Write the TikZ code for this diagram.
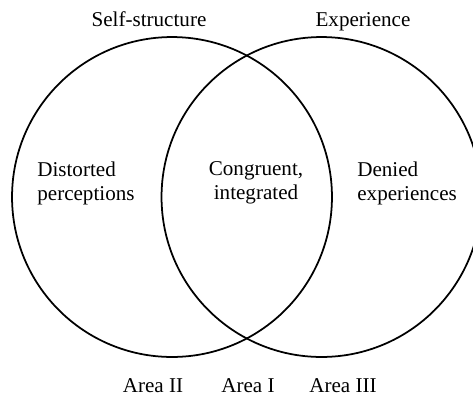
\documentclass[tikz,border=0pt]{standalone}
\usepackage{fontspec}
\setmainfont{Liberation Serif}

\begin{document}
\begin{tikzpicture}[x=0.02cm, y=-0.02cm, every node/.style={font=\fontsize{12}{13.6}\selectfont},
	ring/.style={circle, draw, line width=1pt, minimum size=6.4cm, inner sep=0pt}]

		\useasboundingbox (0,0) rectangle (473,397);

		\node[ring] (S) 	at (172,197) 	{};
		\node[ring] (E) 	at (321.5,197) 	{};

		\node[anchor=base] (Stitle) 	at (149,26) 		{Self-structure};
		\node[anchor=base] (Etitle) 	at (363,26) 		{Experience};

		\node[anchor=west, align=left, inner sep=0pt] (A2) 	at (37,183) 	{Distorted\\perceptions};
		\node[align=center, inner sep=0pt] (A1) 					at (256,183) 	{Congruent,\\integrated};
		\node[anchor=west, align=left, inner sep=0pt] (A3) 	at (357,183) 	{Denied\\experiences};

		\node[anchor=base] (L2) 	at (153,392) 	{Area II};
		\node[anchor=base] (L1) 	at (248,392) 	{Area I};
		\node[anchor=base] (L3) 	at (343,392) 	{Area III};

	\end{tikzpicture}
\end{document}
